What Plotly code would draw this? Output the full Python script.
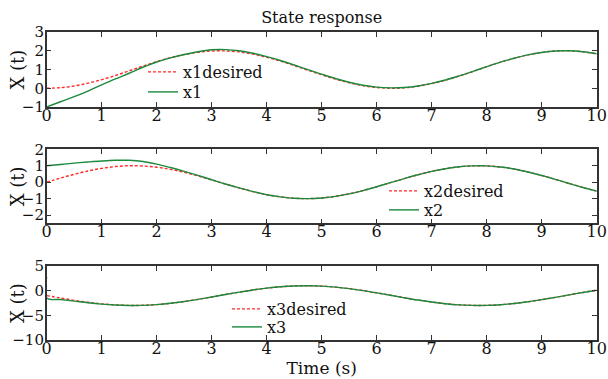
import plotly.graph_objects as go

# ---------------- data ----------------
t = [0, 0.25, 0.5, 0.75, 1, 1.25, 1.5, 1.75, 2, 2.25, 2.5, 2.75, 3, 3.25, 3.5, 3.75,
     4, 4.25, 4.5, 4.75, 5, 5.25, 5.5, 5.75, 6, 6.25, 6.5, 6.75, 7, 7.25, 7.5, 7.75,
     8, 8.25, 8.5, 8.75, 9, 9.25, 9.5, 9.75, 10]

x1_desired = [0.00, 0.03, 0.12, 0.27, 0.46, 0.68, 0.93, 1.18, 1.42, 1.63, 1.80, 1.92, 1.99, 1.99,
              1.94, 1.82, 1.65, 1.45, 1.21, 0.96, 0.72, 0.49, 0.29, 0.14, 0.04, 0.00, 0.02, 0.11,
              0.25, 0.43, 0.65, 0.89, 1.15, 1.39, 1.60, 1.78, 1.91, 1.99, 2.00, 1.94, 1.84]
x1_actual = [-1.00, -0.72, -0.45, -0.15, 0.18, 0.50, 0.80, 1.12, 1.40, 1.62, 1.80, 1.95, 2.05, 2.06,
             2.00, 1.87, 1.69, 1.48, 1.24, 0.99, 0.75, 0.52, 0.32, 0.16, 0.06, 0.02, 0.04, 0.12,
             0.26, 0.44, 0.66, 0.90, 1.15, 1.39, 1.60, 1.78, 1.91, 1.99, 2.00, 1.95, 1.84]

x2_desired = [0.00, 0.25, 0.48, 0.68, 0.84, 0.95, 1.00, 0.98, 0.91, 0.78, 0.60, 0.38, 0.14, -0.11,
              -0.35, -0.57, -0.76, -0.89, -0.98, -1.00, -0.96, -0.86, -0.71, -0.51, -0.28, -0.03,
              0.22, 0.45, 0.66, 0.82, 0.94, 0.99, 0.99, 0.92, 0.80, 0.62, 0.41, 0.17, -0.08, -0.32, -0.54]
x2_actual = [1.00, 1.08, 1.16, 1.23, 1.29, 1.33, 1.33, 1.26, 1.10, 0.89, 0.66, 0.41, 0.15, -0.11,
             -0.35, -0.57, -0.76, -0.89, -0.98, -1.00, -0.96, -0.86, -0.71, -0.51, -0.28, -0.03,
             0.22, 0.45, 0.66, 0.82, 0.94, 0.99, 0.99, 0.92, 0.80, 0.62, 0.41, 0.17, -0.08, -0.32, -0.54]

x3_desired = [-1.00, -1.49, -1.96, -2.36, -2.68, -2.90, -2.99, -2.97, -2.82, -2.56, -2.20, -1.76,
              -1.28, -0.78, -0.30, 0.14, 0.51, 0.79, 0.96, 1.00, 0.92, 0.72, 0.41, 0.02, -0.44,
              -0.93, -1.43, -1.90, -2.31, -2.65, -2.88, -2.99, -2.98, -2.84, -2.60, -2.25, -1.82,
              -1.35, -0.85, -0.36, 0.09]
t3_actual = [0] + t
x3_actual = [2.8, -1.50, -1.80, -2.12, -2.45, -2.72, -2.92, -3.00, -2.98, -2.82, -2.56, -2.20, -1.76,
             -1.28, -0.78, -0.30, 0.14, 0.51, 0.79, 0.96, 1.00, 0.92, 0.72, 0.41, 0.02, -0.44,
             -0.93, -1.43, -1.90, -2.31, -2.65, -2.88, -2.99, -2.98, -2.84, -2.60, -2.25, -1.82,
             -1.35, -0.85, -0.36, 0.09]

x_ticks = [0, 1, 2, 3, 4, 5, 6, 7, 8, 9, 10]
y1_ticks = [-1, 0, 1, 2, 3]
y2_ticks = [-2, -1, 0, 1, 2]
y3_ticks = [-10, -5, 0, 5]

# ---------------- style ----------------
RED = "#ff2a2a"
GREEN = "#1b8a3c"
AX = "#333333"
TXT = "#111111"
FONT = "DejaVu Serif, serif"
W, H = 608.0, 379.0

fig = go.Figure()

panels = [
    ("", t, x1_desired, t, x1_actual, "x1desired", "x1"),
    ("2", t, x2_desired, t, x2_actual, "x2desired", "x2"),
    ("3", t, x3_desired, t3_actual, x3_actual, "x3desired", "x3"),
]
for i, (s, td, yd, ta, ya, nd, na) in enumerate(panels):
    fig.add_trace(go.Scatter(x=td, y=yd, mode="lines", name=nd,
                             legend="legend" if i == 0 else "legend%d" % (2 * i + 1),
                             xaxis="x" + s, yaxis="y" + s,
                             line=dict(color=RED, width=1.4, dash="3px,2px", shape="spline")))
    fig.add_trace(go.Scatter(x=ta, y=ya, mode="lines", name=na, legend="legend%d" % (2 * i + 2),
                             xaxis="x" + s, yaxis="y" + s,
                             line=dict(color=GREEN, width=1.4, shape="spline")))

xdom = [46.7 / W, 596.7 / W]
ydoms = [[1 - 107 / H, 1 - 32 / H], [1 - 223.3 / H, 1 - 149.3 / H], [1 - 340 / H, 1 - 266 / H]]
yranges = [[-1, 3], [-2.5, 2], [-10, 5]]
ytickss = [y1_ticks, y2_ticks, y3_ticks]

common = dict(showline=True, linecolor=AX, linewidth=1.5, mirror="ticks", ticks="inside",
              ticklen=5, tickcolor=AX, tickwidth=1, showgrid=False, zeroline=False,
              automargin=False)

layout = dict(
    width=608, height=379, margin=dict(l=0, r=0, t=0, b=0, autoexpand=False),
    paper_bgcolor="white", plot_bgcolor="white",
    font=dict(family=FONT, color=TXT),
    title=dict(text="State response", x=321.7 / W, xanchor="center", y=1 - 17 / H,
               yanchor="middle", font=dict(family=FONT, size=16, color=TXT)),
    showlegend=True,
)
annotations = []
for i, s in enumerate(["", "2", "3"]):
    layout["xaxis" + s] = dict(domain=xdom, range=[0, 10], tickvals=x_ticks,
                               anchor="y" + s, ticklabelstandoff=-7,
                               tickfont=dict(family=FONT, size=16, color=TXT), **common)
    layout["yaxis" + s] = dict(domain=ydoms[i], range=yranges[i], tickvals=ytickss[i],
                               anchor="x" + s, ticklabelstandoff=-2,
                               tickfont=dict(family=FONT, size=15, color=TXT), **common)
    annotations.append(dict(text="X (t)", textangle=-90, xref="paper", yref="paper",
                            x=17 / W, y=sum(ydoms[i]) / 2, xanchor="center", yanchor="middle",
                            showarrow=False, font=dict(family=FONT, size=18, color=TXT)))
layout["xaxis3"]["title"] = dict(text="Time (s)", standoff=0,
                                 font=dict(family=FONT, size=17, color=TXT))
layout["annotations"] = annotations

leg_common = dict(bgcolor="rgba(0,0,0,0)", borderwidth=0, xanchor="left", yanchor="middle",
                  font=dict(family=FONT, size=16, color=TXT), itemwidth=30)
# (left x of legend, row centre y) in pixels
leg_pos = [(143, 72), (143, 92), (384, 191), (384, 210), (227, 309), (227, 327)]
for k, (px, py) in enumerate(leg_pos):
    name = "legend" if k == 0 else "legend%d" % (k + 1)
    layout[name] = dict(x=px / W, y=1 - py / H, **leg_common)

fig.update_layout(**layout)
fig.write_html("out.html")
